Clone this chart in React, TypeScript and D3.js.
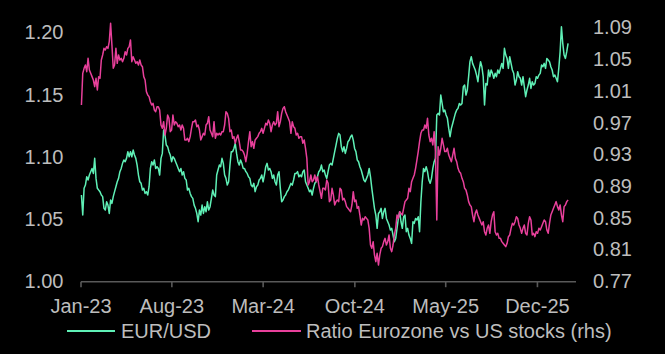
import * as d3 from "d3";

// EUR/USD (about every 3 days from early Jan-23)
const EURUSD = [
  1.0690, 1.0529, 1.0744, 1.0770, 1.0837, 1.0811, 1.0851, 1.0878, 1.0904, 1.0864,
  1.0985, 1.0824, 1.0744, 1.0730, 1.0717, 1.0690, 1.0677, 1.0583, 1.0569, 1.0636,
  1.0609, 1.0542, 1.0650, 1.0623, 1.0677, 1.0717, 1.0757, 1.0797, 1.0824, 1.0878,
  1.0904, 1.0945, 1.0972, 1.0958, 1.0985, 1.1039, 1.0998, 1.1039, 1.0998, 1.1052,
  1.1012, 1.0985, 1.0931, 1.0851, 1.0797, 1.0784, 1.0730, 1.0744, 1.0703, 1.0717,
  1.0690, 1.0757, 1.0904, 1.0958, 1.0931, 1.0972, 1.0904, 1.0918, 1.0904,
  1.0851, 1.0985, 1.1025, 1.1213, 1.1173, 1.1092, 1.1079, 1.1039, 1.1012, 1.0958,
  1.0998, 1.0985, 1.0958, 1.0931, 1.0904, 1.0878, 1.0904, 1.0851, 1.0878, 1.0824,
  1.0811, 1.0730, 1.0744, 1.0703, 1.0677, 1.0663, 1.0609, 1.0583, 1.0542, 1.0475,
  1.0569, 1.0529, 1.0609, 1.0542, 1.0596, 1.0556, 1.0636, 1.0569, 1.0596, 1.0663,
  1.0730, 1.0690, 1.0677, 1.0851, 1.0891, 1.0931, 1.0918, 1.0985, 1.0945, 1.0851,
  1.0824, 1.0770, 1.0797, 1.0931, 1.1039, 1.1039, 1.1065, 1.1106, 1.1025, 1.0958,
  1.0931, 1.0972,
  1.0945, 1.0904, 1.0904, 1.0878, 1.0864, 1.0837, 1.0824, 1.0770, 1.0757, 1.0784,
  1.0717, 1.0757, 1.0770, 1.0811, 1.0824, 1.0851, 1.0797, 1.0851, 1.0918, 1.0945,
  1.0891, 1.0904, 1.0878, 1.0824, 1.0851, 1.0797, 1.0770, 1.0851, 1.0878, 1.0744,
  1.0636, 1.0650, 1.0677, 1.0690, 1.0717, 1.0730, 1.0757, 1.0784, 1.0770, 1.0811,
  1.0864, 1.0864, 1.0878, 1.0837, 1.0851, 1.0837, 1.0878, 1.0891, 1.0797, 1.0770,
  1.0744, 1.0717, 1.0730, 1.0690, 1.0744, 1.0784, 1.0797, 1.0837, 1.0878, 1.0891,
  1.0931, 1.0878,
  1.0891, 1.0851, 1.0824, 1.0878, 1.0931, 1.0945, 1.0931, 1.0985, 1.1039, 1.1092,
  1.1146, 1.1186, 1.1173, 1.1079, 1.1039, 1.1079, 1.1025, 1.1065, 1.1119, 1.1132,
  1.1159, 1.1173, 1.1132, 1.1065, 1.1039, 1.0972, 1.0958, 1.0918, 1.0891, 1.0851,
  1.0811, 1.0797, 1.0824, 1.0851, 1.0904, 1.0837, 1.0744, 1.0663, 1.0583, 1.0529,
  1.0422, 1.0542, 1.0556, 1.0583, 1.0502, 1.0556, 1.0583, 1.0502, 1.0475, 1.0449,
  1.0408, 1.0422, 1.0368, 1.0314, 1.0341, 1.0422, 1.0502, 1.0556, 1.0475, 1.0422,
  1.0516, 1.0529,
  1.0395, 1.0422, 1.0368, 1.0341, 1.0301, 1.0475, 1.0462, 1.0502, 1.0489, 1.0516,
  1.0395, 1.0636, 1.0797, 1.0904, 1.0878, 1.0918, 1.0878, 1.0811, 1.0784, 1.0824,
  1.0904, 1.0958, 1.0985, 1.1334, 1.1347, 1.1334, 1.1494, 1.1427, 1.1360, 1.1374,
  1.1334, 1.1307, 1.1226, 1.1159, 1.1226, 1.1266, 1.1307, 1.1347, 1.1374, 1.1387,
  1.1427, 1.1414, 1.1427, 1.1561, 1.1575, 1.1494, 1.1535, 1.1642, 1.1763, 1.1803,
  1.1749, 1.1722, 1.1696, 1.1655, 1.1602, 1.1696, 1.1763, 1.1722, 1.1642, 1.1414,
  1.1588, 1.1575,
  1.1696, 1.1642, 1.1696, 1.1669, 1.1629, 1.1669, 1.1642, 1.1696, 1.1669, 1.1709,
  1.1749, 1.1709, 1.1870, 1.1816, 1.1789, 1.1709, 1.1803, 1.1749, 1.1696, 1.1669,
  1.1575, 1.1615, 1.1682, 1.1642, 1.1629, 1.1575, 1.1642, 1.1561, 1.1481, 1.1535,
  1.1575, 1.1629, 1.1548, 1.1602, 1.1575, 1.1588, 1.1642, 1.1629, 1.1655, 1.1669,
  1.1736, 1.1722, 1.1749, 1.1709, 1.1789, 1.1776, 1.1763, 1.1722, 1.1696, 1.1642,
  1.1655, 1.1629, 1.1602, 1.1709, 1.1843, 1.2044, 1.1910, 1.1816, 1.1789, 1.1843,
  1.1910,
];

// Ratio Eurozone vs US stocks (rhs), same dates
const RATIO = [
  0.9918, 1.0318, 1.0381, 1.0423, 1.0339, 1.0507, 1.0360, 1.0318, 1.0276, 1.0234,
  1.0150, 1.0255, 1.0108, 1.0276, 1.0255, 1.0486, 1.0549, 1.0633, 1.0612, 1.0654,
  1.0633, 1.0718, 1.0949, 1.0675, 1.0381, 1.0423, 1.0633, 1.0444, 1.0549, 1.0486,
  1.0507, 1.0465, 1.0507, 1.0591, 1.0549, 1.0633, 1.0654, 1.0739, 1.0465, 1.0528,
  1.0486, 1.0444, 1.0465, 1.0423, 1.0486, 1.0423, 1.0402, 1.0276, 1.0234, 1.0087,
  1.0045, 1.0024, 0.9960, 0.9918, 0.9939, 0.9855, 0.9834, 0.9897, 0.9897,
  0.9855, 0.9666, 0.9624, 0.9708, 0.9540, 0.9624, 0.9792, 0.9750, 0.9582, 0.9603,
  0.9792, 0.9666, 0.9708, 0.9687, 0.9645, 0.9666, 0.9603, 0.9666, 0.9624, 0.9477,
  0.9477, 0.9498, 0.9456, 0.9519, 0.9624, 0.9708, 0.9708, 0.9729, 0.9645, 0.9666,
  0.9603, 0.9477, 0.9519, 0.9561, 0.9540, 0.9666, 0.9687, 0.9771, 0.9603, 0.9561,
  0.9519, 0.9708, 0.9498, 0.9561, 0.9540, 0.9561, 0.9540, 0.9582, 0.9582, 0.9666,
  0.9834, 0.9813, 0.9750, 0.9582, 0.9603, 0.9498, 0.9519, 0.9435, 0.9498, 0.9540,
  0.9456, 0.9351,
  0.9351, 0.9330, 0.9287, 0.9203, 0.9309, 0.9456, 0.9582, 0.9393, 0.9456, 0.9372,
  0.9477, 0.9498, 0.9519, 0.9561, 0.9582, 0.9624, 0.9561, 0.9624, 0.9687, 0.9666,
  0.9729, 0.9687, 0.9582, 0.9666, 0.9708, 0.9666, 0.9687, 0.9834, 0.9645, 0.9708,
  0.9813, 0.9876, 0.9897, 0.9834, 0.9792, 0.9750, 0.9708, 0.9561, 0.9708, 0.9645,
  0.9624, 0.9540, 0.9561, 0.9498, 0.9519, 0.9519, 0.9435, 0.9477, 0.9372, 0.9245,
  0.8909, 0.8951, 0.9035, 0.8951, 0.8972, 0.9035, 0.8951, 0.9014, 0.8909, 0.8825,
  0.8741, 0.8867,
  0.8867, 0.8846, 0.8972, 0.8930, 0.8699, 0.8720, 0.8867, 0.8783, 0.8657, 0.8699,
  0.8720, 0.8699, 0.8867, 0.8846, 0.8720, 0.8741, 0.8699, 0.8636, 0.8615, 0.8593,
  0.8572, 0.8657, 0.8825, 0.8699, 0.8720, 0.8615, 0.8636, 0.8530, 0.8404, 0.8488,
  0.8467, 0.8509, 0.8488, 0.8467, 0.8362, 0.8152, 0.8110, 0.8194, 0.8026, 0.7942,
  0.8047, 0.7899, 0.8026, 0.8110, 0.8131, 0.8194, 0.8236, 0.8152, 0.8194, 0.8278,
  0.8110, 0.8068, 0.8152, 0.8278, 0.8362, 0.8530, 0.8488, 0.8572, 0.8551, 0.8530,
  0.8615, 0.8699,
  0.8720, 0.8741, 0.8867, 0.8825, 0.8951, 0.8993, 0.9035, 0.9119, 0.9224, 0.9330,
  0.9456, 0.9561, 0.9603, 0.9603, 0.9666, 0.9624, 0.9750, 0.9540, 0.9456, 0.9498,
  0.9414, 0.9582, 0.9330, 0.8467, 0.9393, 0.9287, 0.9372, 0.9498, 0.9414, 0.9330,
  0.9330, 0.9372, 0.9287, 0.9245, 0.9203, 0.9287, 0.9372, 0.9245, 0.9203, 0.9119,
  0.9077, 0.9056, 0.8993, 0.8951, 0.8867, 0.8846, 0.8783, 0.8699, 0.8657, 0.8636,
  0.8530, 0.8446, 0.8551, 0.8593, 0.8530, 0.8488, 0.8446, 0.8404, 0.8446, 0.8320,
  0.8278, 0.8362,
  0.8404, 0.8299, 0.8446, 0.8530, 0.8572, 0.8320, 0.8278, 0.8299, 0.8236, 0.8236,
  0.8194, 0.8173, 0.8152, 0.8131, 0.8173, 0.8257, 0.8278, 0.8362, 0.8425, 0.8404,
  0.8446, 0.8509, 0.8488, 0.8404, 0.8362, 0.8299, 0.8362, 0.8404, 0.8299, 0.8278,
  0.8425, 0.8509, 0.8467, 0.8278, 0.8299, 0.8257, 0.8320, 0.8299, 0.8362, 0.8341,
  0.8383, 0.8425, 0.8467, 0.8446, 0.8341, 0.8299, 0.8425, 0.8530, 0.8572, 0.8615,
  0.8657, 0.8699, 0.8636, 0.8593, 0.8657, 0.8530, 0.8446, 0.8636, 0.8657, 0.8699,
  0.8720,
];

const START = new Date(2023, 0, 2);
const STEP_DAYS = 3.094;
const DATES = EURUSD.map((_, i) => new Date(START.getTime() + i * STEP_DAYS * 864e5));

const X_TICKS = [
  new Date(2023, 0, 1), new Date(2023, 7, 1), new Date(2024, 2, 1),
  new Date(2024, 9, 1), new Date(2025, 4, 1), new Date(2025, 11, 1),
];
const LEFT_TICKS = [1.0, 1.05, 1.1, 1.15, 1.2];
const RIGHT_TICKS = [0.77, 0.81, 0.85, 0.89, 0.93, 0.97, 1.01, 1.05, 1.09];

const W = 665, H = 354;
const GREEN = "#5ff0b6";
const PINK = "#e8409b";
const TEXT = "#bdbdbd";
const FONT = "'Liberation Sans', Arial, sans-serif";

export default function App() {
  const x = d3.scaleTime()
    .domain([new Date(2023, 0, 1), new Date(2026, 2, 1)])
    .range([81, 576]);
  const yL = d3.scaleLinear().domain([1.0, 1.2]).range([280.8, 32.2]);
  const yR = d3.scaleLinear().domain([0.77, 1.09]).range([280.8, 27.2]);

  const lineL = d3.line<number>().x((_, i) => x(DATES[i])).y(d => yL(d));
  const lineR = d3.line<number>().x((_, i) => x(DATES[i])).y(d => yR(d));
  const fmt = d3.timeFormat("%b-%y");
  const axisY = 281.7;

  return (
    <>
      <style>{`body{margin:0;background:#000}`}</style>
      <svg width={W} height={H} style={{ display: "block", background: "#000" }}
        fontFamily={FONT} fontSize={20}>
        <rect width={W} height={H} fill="#000" />

        {/* left axis labels */}
        {LEFT_TICKS.map(t => (
          <text key={t} x={63.5} y={yL(t) + 7.2} textAnchor="end" fill={TEXT}>
            {t.toFixed(2)}
          </text>
        ))}
        {/* right axis labels */}
        {RIGHT_TICKS.map(t => (
          <text key={t} x={593} y={yR(t) + 7.2} textAnchor="start" fill={TEXT}>
            {t.toFixed(2)}
          </text>
        ))}

        {/* bottom axis */}
        <line x1={x.range()[0]} x2={x.range()[1]} y1={axisY} y2={axisY}
          stroke="#595959" strokeWidth={1.6} />
        {X_TICKS.map(t => (
          <g key={+t}>
            <line x1={x(t)} x2={x(t)} y1={axisY} y2={axisY + 5.5}
              stroke="#595959" strokeWidth={1.6} />
            <text x={x(t)} y={312.7} textAnchor="middle" fill={TEXT}>{fmt(t)}</text>
          </g>
        ))}

        <path d={lineL(EURUSD) ?? ""} fill="none" stroke={GREEN} strokeWidth={1.5}
          strokeLinejoin="round" />
        <path d={lineR(RATIO) ?? ""} fill="none" stroke={PINK} strokeWidth={1.5}
          strokeLinejoin="round" />

        {/* legend */}
        <line x1={67} x2={115} y1={331} y2={331} stroke={GREEN} strokeWidth={2} />
        <text x={121} y={337.8} fill={TEXT}>EUR/USD</text>
        <line x1={252} x2={301} y1={331} y2={331} stroke={PINK} strokeWidth={2} />
        <text x={306} y={337.8} fill={TEXT}>Ratio Eurozone vs US stocks (rhs)</text>
      </svg>
    </>
  );
}
